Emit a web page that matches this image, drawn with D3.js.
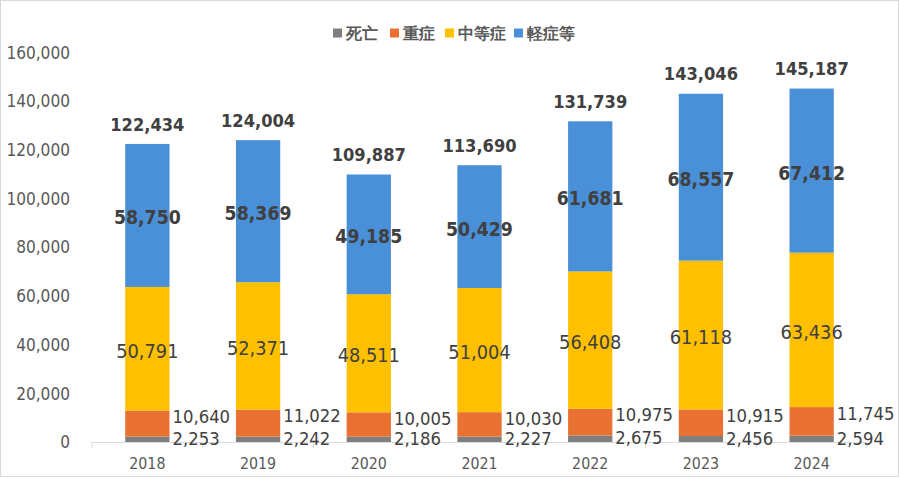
<!DOCTYPE html>
<html>
<head>
<meta charset="utf-8">
<script src="https://d3js.org/d3.v7.min.js"></script>
<style>
  body { margin: 0; background: #fff; }
  text { font-family: "DejaVu Sans", Verdana, sans-serif; }
</style>
</head>
<body>
<div id="chart"></div>
<script>
// data
var years = ["2018", "2019", "2020", "2021", "2022", "2023", "2024"];
var death = [2253, 2242, 2186, 2227, 2675, 2456, 2594];
var severe = [10640, 11022, 10005, 10030, 10975, 10915, 11745];
var moderate = [50791, 52371, 48511, 51004, 56408, 61118, 63436];
var mild = [58750, 58369, 49185, 50429, 61681, 68557, 67412];
var totals = [122434, 124004, 109887, 113690, 131739, 143046, 145187];
var yTicks = [0, 20000, 40000, 60000, 80000, 100000, 120000, 140000, 160000];

var seriesNames = ["死亡", "重症", "中等症", "軽症等"];
var colors = ["#7f7f7f", "#e97132", "#ffc000", "#4a90d9"];

var width = 900, height = 478;
// text in the original is squeezed horizontally, so draw the plot in a stretched space
var sx = 0.89;

var svg = d3.select("#chart").append("svg")
    .attr("width", width)
    .attr("height", height);

svg.append("rect")
    .attr("x", 0.5).attr("y", 0.5)
    .attr("width", width - 2).attr("height", height - 2)
    .attr("fill", "#fff")
    .attr("stroke", "#d9d9d9");

var g = svg.append("g").attr("transform", "scale(" + sx + ",1)");

var x = d3.scaleBand()
    .domain(years)
    .range([92 / sx, 867 / sx])
    .paddingInner(0.6)
    .paddingOuter(0.3);

var y = d3.scaleLinear()
    .domain([0, 160000])
    .range([442, 52.5]);

var table = years.map(function (yr, i) {
    return { year: yr, "死亡": death[i], "重症": severe[i], "中等症": moderate[i], "軽症等": mild[i] };
});
var stacked = d3.stack().keys(seriesNames)(table);

// y tick labels
g.selectAll(".ytick")
    .data(yTicks)
    .enter().append("text")
    .attr("x", 70 / sx)
    .attr("y", function (d) { return y(d); })
    .attr("dy", "0.36em")
    .attr("text-anchor", "end")
    .attr("font-size", 17.3)
    .attr("fill", "#595959")
    .text(function (d) { return d3.format(",")(d); });

// bars
g.selectAll(".series")
    .data(stacked)
    .enter().append("g")
    .attr("fill", function (d, i) { return colors[i]; })
    .selectAll("rect")
    .data(function (d) { return d; })
    .enter().append("rect")
    .attr("x", function (d) { return x(d.data.year); })
    .attr("width", x.bandwidth())
    .attr("y", function (d) { return y(d[1]); })
    .attr("height", function (d) { return y(d[0]) - y(d[1]); });

// x axis line and ticks
var step = x.step();
var x0 = 92 / sx;
g.append("line")
    .attr("x1", x0).attr("x2", 867 / sx)
    .attr("y1", 442.5).attr("y2", 442.5)
    .attr("stroke", "#d9d9d9");
g.selectAll(".xtick")
    .data(d3.range(years.length + 1))
    .enter().append("line")
    .attr("x1", function (d) { return x0 + d * step; })
    .attr("x2", function (d) { return x0 + d * step; })
    .attr("y1", 442).attr("y2", 448)
    .attr("stroke", "#d9d9d9")
    .attr("stroke-width", 1 / sx);

g.selectAll(".xlab")
    .data(years)
    .enter().append("text")
    .attr("x", function (d) { return x(d) + x.bandwidth() / 2; })
    .attr("y", 469)
    .attr("text-anchor", "middle")
    .attr("font-size", 16)
    .attr("fill", "#595959")
    .text(function (d) { return d; });

var fmt = d3.format(",");
var cx = function (i) { return x(years[i]) + x.bandwidth() / 2; };
var right = function (i) { return x(years[i]) + x.bandwidth() + 3 / sx; };

// death labels (right of bar)
g.selectAll(".lab-death")
    .data(stacked[0])
    .enter().append("text")
    .attr("x", function (d, i) { return right(i); })
    .attr("y", function (d) { return (y(d[0]) + y(d[1])) / 2 - 1; })
    .attr("dy", "0.36em")
    .attr("font-size", 18.5)
    .attr("fill", "#404040")
    .text(function (d, i) { return fmt(death[i]); });

// severe labels (right of bar, near top of segment)
g.selectAll(".lab-severe")
    .data(stacked[1])
    .enter().append("text")
    .attr("x", function (d, i) { return right(i); })
    .attr("y", function (d) { return y(d[1]) + 6; })
    .attr("dy", "0.36em")
    .attr("font-size", 18.5)
    .attr("fill", "#404040")
    .text(function (d, i) { return fmt(severe[i]); });

// moderate labels (centred)
g.selectAll(".lab-mod")
    .data(stacked[2])
    .enter().append("text")
    .attr("x", function (d, i) { return cx(i); })
    .attr("y", function (d) { return (y(d[0]) + y(d[1])) / 2 + 2; })
    .attr("dy", "0.36em")
    .attr("text-anchor", "middle")
    .attr("font-size", 20)
    .attr("fill", "#404040")
    .text(function (d, i) { return fmt(moderate[i]); });

// mild labels (centred, bold)
g.selectAll(".lab-mild")
    .data(stacked[3])
    .enter().append("text")
    .attr("x", function (d, i) { return cx(i); })
    .attr("y", function (d) { return (y(d[0]) + y(d[1])) / 2 + 2; })
    .attr("dy", "0.36em")
    .attr("text-anchor", "middle")
    .attr("font-size", 19.5)
    .attr("font-weight", "bold")
    .attr("fill", "#404040")
    .text(function (d, i) { return fmt(mild[i]); });

// totals above bars
g.selectAll(".lab-total")
    .data(totals)
    .enter().append("text")
    .attr("x", function (d, i) { return cx(i); })
    .attr("y", function (d) { return y(d) - 20; })
    .attr("dy", "0.36em")
    .attr("text-anchor", "middle")
    .attr("font-size", 18.3)
    .attr("font-weight", "bold")
    .attr("fill", "#404040")
    .text(function (d) { return fmt(d); });

// legend
var legendX = [333, 390, 445, 514];
var legend = svg.append("g");
var items = legend.selectAll(".leg")
    .data(seriesNames)
    .enter().append("g")
    .attr("transform", function (d, i) { return "translate(" + legendX[i] + ",33)"; });
items.append("rect")
    .attr("x", 0).attr("y", -4.5)
    .attr("width", 9).attr("height", 9)
    .attr("fill", function (d, i) { return colors[i]; });
items.append("text")
    .attr("x", 13)
    .attr("dy", "0.36em")
    .attr("font-family", "'Noto Sans CJK JP', sans-serif")
    .attr("font-size", 16)
    .attr("font-weight", "bold")
    .attr("fill", "#595959")
    .text(function (d) { return d; });
</script>
</body>
</html>
